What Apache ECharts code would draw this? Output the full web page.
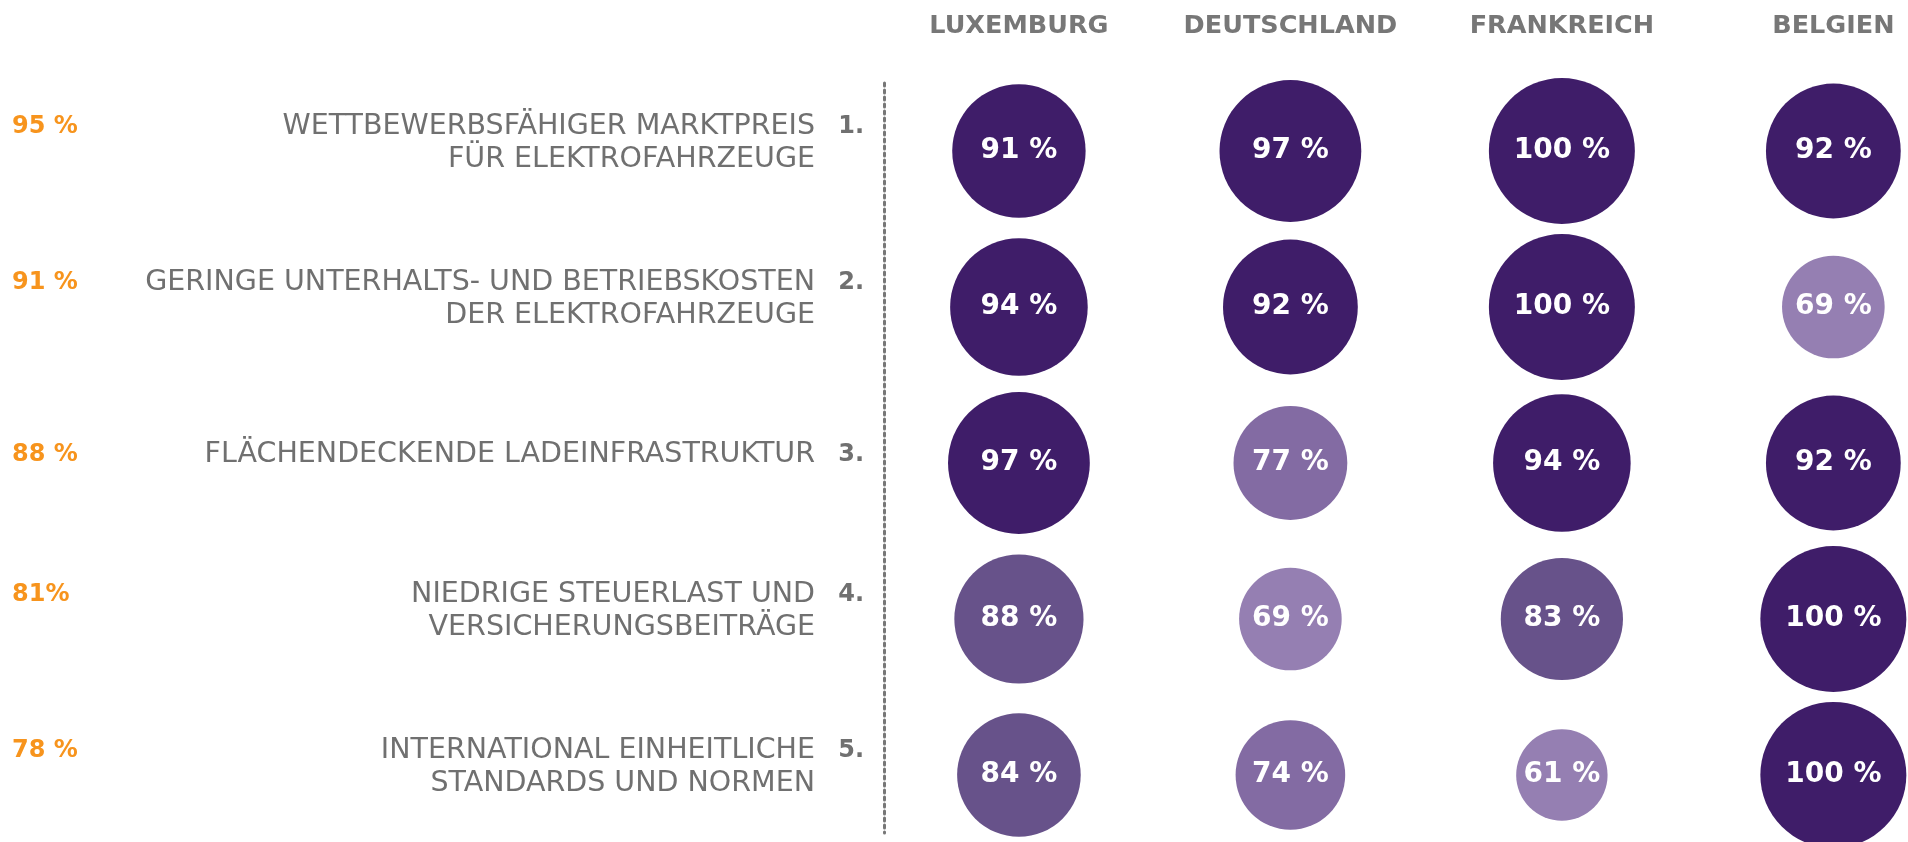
<!DOCTYPE html>
<html>
<head>
<meta charset="utf-8">
<script src="https://cdn.jsdelivr.net/npm/echarts@6/dist/echarts.min.js"></script>
<style>
  html, body { margin: 0; padding: 0; background: #fff; }
  #chart { width: 1908px; height: 842px; }
</style>
</head>
<body>
<div id="chart"></div>
<script>
(function () {
  var countries = ['LUXEMBURG', 'DEUTSCHLAND', 'FRANKREICH', 'BELGIEN'];
  // Kriterien, zweizeilig
  var labelLine1 = ['WETTBEWERBSFÄHIGER MARKTPREIS', 'GERINGE UNTERHALTS- UND BETRIEBSKOSTEN', 'FLÄCHENDECKENDE LADEINFRASTRUKTUR', 'NIEDRIGE STEUERLAST UND', 'INTERNATIONAL EINHEITLICHE'];
  var labelLine2 = ['FÜR ELEKTROFAHRZEUGE', 'DER ELEKTROFAHRZEUGE', '', 'VERSICHERUNGSBEITRÄGE', 'STANDARDS UND NORMEN'];
  var totalLabels = ['95 %', '91 %', '88 %', '81%', '78 %'];
  // Werte je Land (Spalten) und Kriterium (Zeilen)
  var luxemburg = [91, 94, 97, 88, 84];
  var deutschland = [97, 92, 77, 69, 74];
  var frankreich = [100, 100, 94, 83, 61];
  var belgien = [92, 69, 92, 100, 100];

  var columns = [luxemburg, deutschland, frankreich, belgien];
  var data = [];
  columns.forEach(function (col, c) {
    col.forEach(function (v, r) {
      data.push([c, r, v]);
    });
  });

  function bubbleColor(v) {
    if (v >= 90) return '#3f1d69';
    if (v >= 80) return '#67528a';
    if (v >= 70) return '#836ba3';
    return '#957fb2';
  }

  var rowIdx = [0, 1, 2, 3, 4];
  var font = 'DejaVu Sans';

  var myChart = echarts.init(document.getElementById('chart'));
  var option = {
    backgroundColor: '#fff',
    animation: false,
    grid: { left: 884, right: 0, top: 83, bottom: 9 },
    xAxis: {
      type: 'value',
      position: 'top',
      min: -0.497,
      max: 3.275,
      axisLine: { show: false },
      axisTick: { show: false },
      splitLine: { show: false },
      axisLabel: {
        customValues: [0, 1, 2, 3],
        formatter: function (v) { return countries[v]; },
        color: '#777777',
        fontFamily: font,
        fontWeight: 'bold',
        fontSize: 25.5,
        verticalAlign: 'middle',
        margin: 57
      }
    },
    yAxis: [{
      type: 'value',
      inverse: true,
      min: -0.436,
      max: 4.372,
      position: 'left',
      z: 0,
      axisLine: { show: true, onZero: false, lineStyle: { color: '#777777', width: 3, type: [3, 4] } },
      axisTick: { show: false },
      splitLine: { show: false },
      axisLabel: {
        customValues: rowIdx,
        margin: 20,
        align: 'right',
        padding: [0, 0, 16, 0],
        formatter: function (v) {
          var s = '{t|' + labelLine1[v] + '}{n|' + (v + 1) + '.}';
          if (labelLine2[v]) s += '\n{t|' + labelLine2[v] + '}{sp| }';
          return s;
        },
        rich: {
          t: { fontFamily: font, fontSize: 28.5, color: '#707070', lineHeight: 33 },
          n: { fontFamily: font, fontSize: 24, fontWeight: 'bold', color: '#707070', lineHeight: 33, width: 49, align: 'right' },
          sp: { fontSize: 24, lineHeight: 33, width: 49 }
        }
      }
    }, {
      type: 'value',
      inverse: true,
      min: -0.436,
      max: 4.372,
      position: 'left',
      offset: 872,
      axisLine: { show: false, onZero: false },
      axisTick: { show: false },
      splitLine: { show: false },
      axisLabel: {
        customValues: rowIdx,
        margin: 0,
        align: 'left',
        padding: [0, 0, 16, 0],
        formatter: function (v) {
          return '{o|' + totalLabels[v] + '}' + (labelLine2[v] ? '\n{o| }' : '');
        },
        rich: {
          o: { fontFamily: font, fontSize: 24, fontWeight: 'bold', color: '#f7941d', lineHeight: 33 }
        }
      }
    }],
    series: [{
      type: 'scatter',
      clip: false,
      data: data,
      symbolSize: function (d) { return 1.4 * d[2] + 6; },
      itemStyle: {
        opacity: 1,
        color: function (p) { return bubbleColor(p.data[2]); }
      },
      label: {
        show: true,
        position: 'inside',
        formatter: function (p) { return p.data[2] + ' %'; },
        color: '#fff',
        fontFamily: font,
        fontWeight: 'bold',
        fontSize: 28
      },
      emphasis: { disabled: true }
    }]
  };
  myChart.setOption(option);
  window.addEventListener('resize', function () {
    myChart.resize();
  });
})();
</script>
</body>
</html>
